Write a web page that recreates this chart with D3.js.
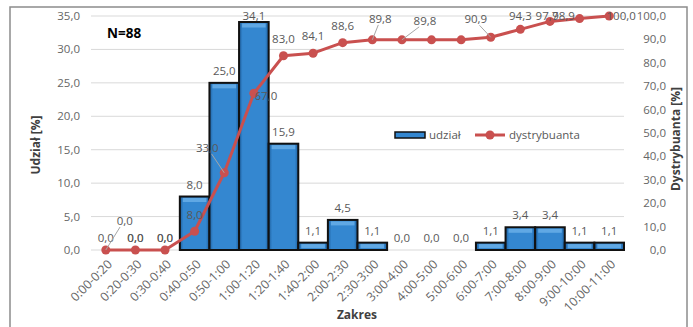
<!DOCTYPE html>
<html lang="pl">
<head>
<meta charset="utf-8">
<title>Udział i dystrybuanta</title>
<script src="https://d3js.org/d3.v7.min.js"></script>
<style>
    body { margin: 0; background: #fff; }
    text { font-family: "Open Sans", "Noto Sans", sans-serif; }
    .lbl { font-size: 11.5px; fill: #595959; }
    .tick-lbl { font-size: 11.5px; fill: #666; }
    .x-lbl { font-size: 12.3px; fill: #666; }
    .title { font-size: 12px; font-weight: bold; fill: #404040; }
</style>
</head>
<body>
<div id="chart"></div>
<script>
const categories = ["0:00-0:20","0:20-0:30","0:30-0:40","0:40-0:50","0:50-1:00","1:00-1:20","1:20-1:40",
    "1:40-2:00","2:00-2:30","2:30-3:00","3:00-4:00","4:00-5:00","5:00-6:00","6:00-7:00","7:00-8:00",
    "8:00-9:00","9:00-10:00","10:00-11:00"];
const udzial = [0.0,0.0,0.0,8.0,25.0,34.1,15.9,1.1,4.5,1.1,0.0,0.0,0.0,1.1,3.4,3.4,1.1,1.1];
const dystrybuanta = [0.0,0.0,0.0,8.0,33.0,67.0,83.0,84.1,88.6,89.8,89.8,89.8,89.8,90.9,94.3,97.7,98.9,100.0];
const leftTicks = [0,5,10,15,20,25,30,35];
const rightTicks = [0,10,20,30,40,50,60,70,80,90,100];

// label placement for the cumulative line (manual, like in the source chart)
const lineLabelPos = {
    0: {dx: 19, dy: -29, leader: true}, 1: {dx: 0, dy: -12}, 2: {dx: 0, dy: -12},
    3: {dx: 0, dy: -16}, 4: {dx: -17, dy: -25, leader: true},
    5: {dx: 12, dy: 3}, 9: {dx: 8, dy: -21, leader: true}, 10: {dx: 23, dy: -19, leader: true},
    11: null, 12: null, 13: {dx: -15, dy: -18, leader: true}, 14: {dx: 0, dy: -13},
    15: {dx: -3, dy: -5}, 16: {dx: -16, dy: -3}, 17: {dx: 12, dy: 0}
};

const W = 693, H = 327;
const svg = d3.select("#chart").append("svg").attr("width", W).attr("height", H);
const fmt = v => d3.format(".1f")(v).replace(".", ",");

const x = d3.scaleBand().domain(categories).range([91, 624]).padding(0);
const yL = d3.scaleLinear().domain([0, 35]).range([250, 16]);
const yR = d3.scaleLinear().domain([0, 100]).range([250, 16]);

// frame
svg.append("rect").attr("x", 10).attr("y", 7).attr("width", 677).attr("height", 330)
    .attr("fill", "none").attr("stroke", "#8c8c8c").attr("stroke-width", 1.5);

// gradient for bars
const defs = svg.append("defs");
const g1 = defs.append("linearGradient").attr("id", "barGrad").attr("x1", 0).attr("x2", 1).attr("y1", 0).attr("y2", 0);
g1.append("stop").attr("offset", "0%").attr("stop-color", "#1d5e9c");
g1.append("stop").attr("offset", "12%").attr("stop-color", "#3487d0");
g1.append("stop").attr("offset", "88%").attr("stop-color", "#3487d0");
g1.append("stop").attr("offset", "100%").attr("stop-color", "#1d5e9c");

// gridlines
svg.append("g").selectAll("line").data(leftTicks).enter().append("line")
    .attr("x1", 91).attr("x2", 624)
    .attr("y1", d => yL(d)).attr("y2", d => yL(d))
    .attr("stroke", "#d9d9d9").attr("stroke-width", 1);

// left axis labels
svg.append("g").selectAll("text").data(leftTicks).enter().append("text")
    .attr("class", "tick-lbl").attr("x", 80).attr("y", d => yL(d)).attr("dy", "0.35em")
    .attr("text-anchor", "end").text(fmt);

// right axis labels
svg.append("g").selectAll("text").data(rightTicks).enter().append("text")
    .attr("class", "tick-lbl").attr("x", 666).attr("y", d => yR(d)).attr("dy", "0.35em")
    .attr("text-anchor", "end").text(fmt);

// x labels
svg.append("g").selectAll("text").data(categories).enter().append("text")
    .attr("class", "x-lbl")
    .attr("transform", d => `translate(${x(d) + x.bandwidth() / 2 + 4},${262}) rotate(-45)`)
    .attr("text-anchor", "end").attr("dy", "0.35em").text(d => d);

// bars
const bars = svg.append("g");
const barData = categories.map((c, i) => ({c, v: udzial[i]})).filter(d => d.v > 0);
bars.selectAll("rect.bar").data(barData).enter().append("rect")
    .attr("class", "bar")
    .attr("x", d => x(d.c)).attr("width", x.bandwidth())
    .attr("y", d => yL(d.v)).attr("height", d => yL(0) - yL(d.v))
    .attr("fill", "url(#barGrad)").attr("stroke", "#111").attr("stroke-width", 2);
// bevel highlight on top
bars.selectAll("rect.hl").data(barData).enter().append("rect")
    .attr("class", "hl")
    .attr("x", d => x(d.c) + 3).attr("width", x.bandwidth() - 6)
    .attr("y", d => yL(d.v) + 1.5).attr("height", d => Math.min(4, yL(0) - yL(d.v) - 2))
    .attr("fill", "#6cb0e8").attr("opacity", 0.8);

// bar labels
svg.append("g").selectAll("text").data(categories).enter().append("text")
    .attr("class", "lbl")
    .attr("x", d => x(d) + x.bandwidth() / 2)
    .attr("y", (d, i) => Math.max(20, yL(udzial[i]) - 8))
    .attr("text-anchor", "middle").text((d, i) => fmt(udzial[i]));

// cumulative line
const cx = i => x(categories[i]) + x.bandwidth() / 2;
const line = d3.line().x((d, i) => cx(i)).y(d => yR(d));
svg.append("path").datum(dystrybuanta).attr("d", line)
    .attr("fill", "none").attr("stroke", "#c9504f").attr("stroke-width", 3).attr("stroke-linejoin", "round");
svg.append("g").selectAll("circle").data(dystrybuanta).enter().append("circle")
    .attr("cx", (d, i) => cx(i)).attr("cy", d => yR(d)).attr("r", 4.5).attr("fill", "#c9504f");

// cumulative labels
const ll = svg.append("g");
dystrybuanta.forEach((v, i) => {
    let p = lineLabelPos.hasOwnProperty(i) ? lineLabelPos[i] : {dx: 0, dy: -17};
    if (p === null) return;
    const px = cx(i), py = yR(v);
    if (p.leader) {
        ll.append("line").attr("x1", px).attr("y1", py)
            .attr("x2", px + p.dx * 0.75).attr("y2", py + p.dy + 6)
            .attr("stroke", "#a6a6a6").attr("stroke-width", 1);
    }
    ll.append("text").attr("class", "lbl").attr("x", px + p.dx).attr("y", py + p.dy)
        .attr("dy", "0.35em").attr("text-anchor", "middle").text(fmt(v));
});

// N label
svg.append("text").attr("x", 107).attr("y", 33).attr("dy", "0.35em")
    .style("font-size", "13.5px").style("font-weight", "bold").attr("fill", "#000").text("N=88");

// legend
svg.append("rect").attr("x", 395).attr("y", 132).attr("width", 30).attr("height", 6)
    .attr("fill", "#3487d0").attr("stroke", "#111").attr("stroke-width", 1.5);
svg.append("text").attr("class", "lbl").attr("x", 429).attr("y", 135).attr("dy", "0.35em").text("udział");
svg.append("line").attr("x1", 475).attr("x2", 505).attr("y1", 135).attr("y2", 135)
    .attr("stroke", "#c9504f").attr("stroke-width", 3);
svg.append("circle").attr("cx", 490).attr("cy", 135).attr("r", 4.5).attr("fill", "#c9504f");
svg.append("text").attr("class", "lbl").attr("x", 509).attr("y", 135).attr("dy", "0.35em").text("dystrybuanta");

// axis titles
svg.append("text").attr("class", "title").attr("transform", "translate(36,145) rotate(-90)")
    .attr("text-anchor", "middle").attr("dy", "0.35em").text("Udział [%]");
svg.append("text").attr("class", "title").attr("transform", "translate(676,139) rotate(-90)")
    .attr("text-anchor", "middle").attr("dy", "0.35em").text("Dystrybuanta [%]");
svg.append("text").attr("class", "title").attr("x", 357).attr("y", 315)
    .attr("text-anchor", "middle").attr("dy", "0.35em").text("Zakres");
</script>
</body>
</html>
